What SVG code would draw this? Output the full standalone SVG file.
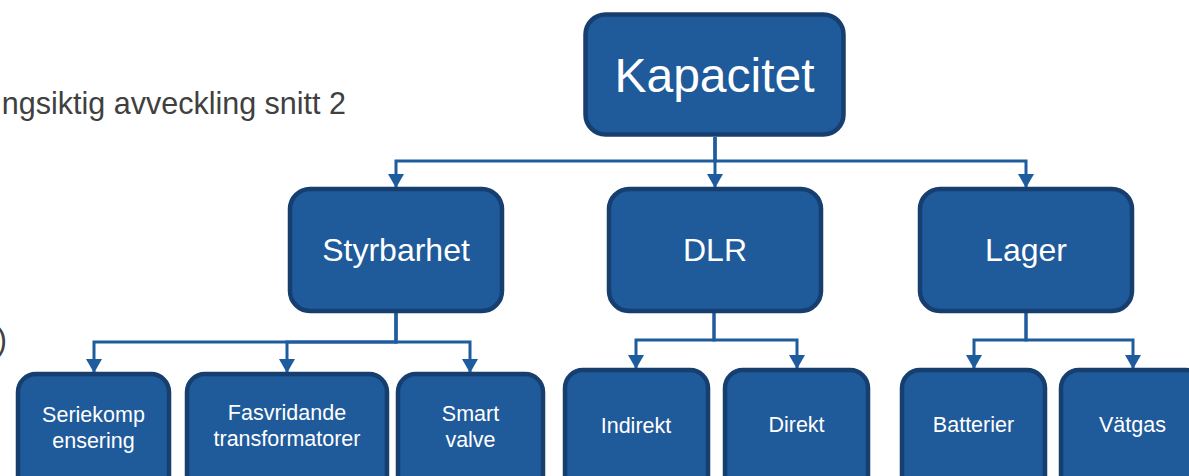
<svg xmlns="http://www.w3.org/2000/svg" width="1189" height="476" viewBox="0 0 1189 476">
<style>
.box{fill:#1F5A9A;stroke:#163F6F;stroke-width:4.5}
.t{font-family:"Liberation Sans",Arial,sans-serif;fill:#FFFFFF;text-anchor:middle}
.big{font-size:48px}
.mid{font-size:32px}
.sm{font-size:21.5px}
.conn{fill:none;stroke:#1F5C9E;stroke-width:3}
.title{font-family:"Liberation Sans",Arial,sans-serif;fill:#404040;font-size:30.5px}
</style>
<defs>
<marker id="arr" viewBox="0 0 14 16" markerWidth="14" markerHeight="16" refX="14" refY="8" markerUnits="userSpaceOnUse" orient="auto">
<path d="M0,0 L14,8 L0,16 Z" fill="#1F5C9E"/>
</marker>
</defs>
<rect width="1189" height="476" fill="#FFFFFF"/>
<text class="title" x="346" y="114" text-anchor="end">ngsiktig avveckling snitt 2</text>
<text class="title" x="7" y="350" text-anchor="end">)</text>
<g id="connectors">
<path class="conn" d="M715,137 V161 H396 V188" marker-end="url(#arr)"/>
<path class="conn" d="M715,137 V188" marker-end="url(#arr)"/>
<path class="conn" d="M715,137 V161 H1026 V188" marker-end="url(#arr)"/>
<path class="conn" d="M396,313 V342 H94 V373" marker-end="url(#arr)"/>
<path class="conn" d="M396,313 V342 H287 V373" marker-end="url(#arr)"/>
<path class="conn" d="M396,313 V342 H470 V373" marker-end="url(#arr)"/>
<path class="conn" d="M714,313 V340 H636 V369" marker-end="url(#arr)"/>
<path class="conn" d="M714,313 V340 H797 V369" marker-end="url(#arr)"/>
<path class="conn" d="M1026,313 V340 H974 V369" marker-end="url(#arr)"/>
<path class="conn" d="M1026,313 V340 H1133 V369" marker-end="url(#arr)"/>
</g>
<g id="kapacitet">
<rect class="box" x="585.5" y="14.5" width="258" height="120" rx="20"/>
<text class="t big" x="714.5" y="92">Kapacitet</text>
</g>
<g id="styrbarhet">
<rect class="box" x="290" y="189" width="212" height="122" rx="20"/>
<text class="t mid" x="396" y="261">Styrbarhet</text>
</g>
<g id="dlr">
<rect class="box" x="609" y="189" width="212" height="122" rx="20"/>
<text class="t mid" x="715" y="261">DLR</text>
</g>
<g id="lager">
<rect class="box" x="920" y="189" width="212" height="122" rx="20"/>
<text class="t mid" x="1026" y="261">Lager</text>
</g>
<g id="seriekompensering">
<rect class="box" x="18" y="374" width="151" height="130" rx="18"/>
<text class="t sm" x="93.5" y="422">Seriekomp</text>
<text class="t sm" x="93.5" y="448">ensering</text>
</g>
<g id="fasvridande">
<rect class="box" x="187" y="374" width="200" height="130" rx="18"/>
<text class="t sm" x="287" y="420">Fasvridande</text>
<text class="t sm" x="287" y="446">transformatorer</text>
</g>
<g id="smartvalve">
<rect class="box" x="398" y="374" width="145" height="130" rx="18"/>
<text class="t sm" x="470.5" y="421">Smart</text>
<text class="t sm" x="470.5" y="447">valve</text>
</g>
<g id="indirekt">
<rect class="box" x="565" y="370" width="143" height="130" rx="18"/>
<text class="t sm" x="636" y="433">Indirekt</text>
</g>
<g id="direkt">
<rect class="box" x="725" y="370" width="143" height="130" rx="18"/>
<text class="t sm" x="796.5" y="432">Direkt</text>
</g>
<g id="batterier">
<rect class="box" x="902" y="370" width="143" height="130" rx="18"/>
<text class="t sm" x="973.5" y="432">Batterier</text>
</g>
<g id="vatgas">
<rect class="box" x="1061" y="370" width="143" height="130" rx="18"/>
<text class="t sm" x="1132.5" y="432">Vätgas</text>
</g>
</svg>
